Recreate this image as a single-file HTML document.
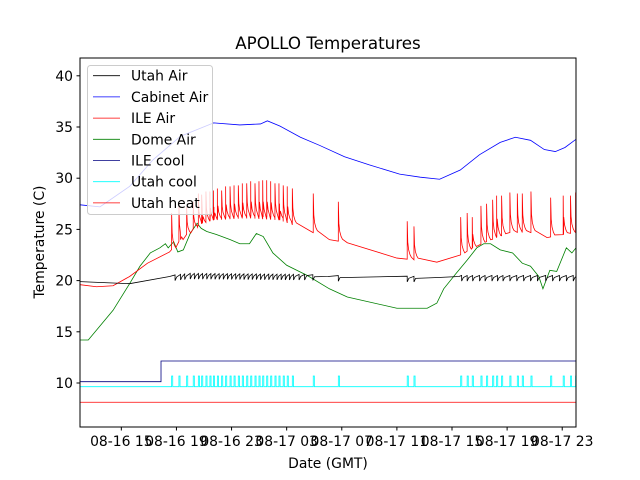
<!DOCTYPE html>
<html><head><meta charset="utf-8"><style>
body{margin:0;background:#fff}
svg{display:block;font-family:"DejaVu Sans","Liberation Sans",sans-serif}
</style></head><body>
<svg id="c" width="640" height="480" viewBox="0 0 640 480"></svg>
<script>
// time in hours from 08-16 12:00
const xTickLabels=["08-16 15","08-16 19","08-16 23","08-17 03","08-17 07","08-17 11","08-17 15","08-17 19","08-17 23"];
const xTickHours=[3,7,11,15,19,23,27,31,35];
const yTicks=[15,20,25,30,35,40,10];
const cabinetT=[0,1.45,3.6,5.3,7.3,9.7,11.6,13.1,13.6,14.5,16.0,17.4,19.2,21.0,23.2,24.7,26.1,27.6,29.0,30.5,31.6,32.7,33.7,34.5,35.2,36];
const cabinetV=[27.4,27.2,29.2,31.8,34.1,35.4,35.2,35.3,35.6,35.1,34.0,33.2,32.1,31.3,30.4,30.1,29.9,30.8,32.3,33.5,34.0,33.7,32.8,32.6,33.0,33.8];
const ileT=[0,1.2,2.4,3.6,4.9,6.5,7.3,8.5,9.7,12.1,14.5,16.9,18.1,19.4,23,25.9,27.6,28.5,29.5,31.2,32.7,33.9,35.1,36];
const ileV=[19.6,19.4,19.5,20.4,21.7,22.8,24.0,25.4,25.9,26.1,25.9,24.7,24.0,23.7,22.2,21.8,22.5,23.2,23.8,24.7,24.7,24.2,24.5,24.7];
const ileSpikeT=[6.65,7.18,7.74,8.22,8.59,8.83,9.14,9.43,9.68,9.97,10.28,10.57,10.89,11.18,11.49,11.78,12.1,12.39,12.7,12.99,13.26,13.55,13.84,14.15,14.44,14.75,15.04,15.41,16.93,18.75,23.75,24.24,27.63,28.1,28.47,29.1,29.51,29.95,30.24,30.6,31.2,31.74,32.1,32.73,34.16,35.07,35.6,35.97];
const ileSpikeV=[26.6,27.5,27.2,27.7,28.5,28.4,28.7,28.7,28.8,29.0,28.8,29.2,29.2,29.3,29.3,29.5,29.5,29.7,29.5,29.7,29.8,29.8,29.7,29.5,29.5,29.3,29.2,29.0,28.5,27.7,25.8,25.3,26.2,26.6,26.2,27.3,27.5,27.9,28.3,28.3,28.6,28.5,28.5,28.7,28.1,28.3,28.3,28.6];
const domeT=[0,0.6,2.4,3.6,4.35,5.1,5.8,6.2,6.4,6.8,7.1,7.5,8.0,8.5,8.8,9.2,9.9,10.9,11.6,12.3,12.8,13.3,14.0,15.0,16.5,18.1,19.4,23,25.2,25.9,26.4,27.3,28.1,28.8,29.3,29.8,30.5,31.4,32.1,32.7,33.3,33.6,34.1,34.6,35.3,35.7,36];
const domeV=[14.2,14.2,17.1,19.7,21.4,22.7,23.2,23.6,23.2,23.8,22.8,23.0,24.6,25.6,25.1,24.8,24.5,24.0,23.6,23.6,24.6,24.3,22.7,21.5,20.5,19.2,18.4,17.3,17.3,17.8,19.2,20.7,22.0,23.2,23.6,23.6,23.0,22.7,21.7,21.4,20.4,19.2,21.0,20.9,23.2,22.7,23.2];
const utahT=[0,3.6,6.5,8,16.5,18,26,27.5,36];
const utahV=[19.9,19.7,20.4,20.6,20.5,20.4,20.3,20.4,20.4];
const utahDipT=[6.9,7.3,7.6,8.0,8.3,8.6,8.9,9.2,9.5,9.8,10.1,10.4,10.7,11.0,11.3,11.6,11.9,12.2,12.5,12.8,13.1,13.4,13.7,14.0,14.3,14.6,14.9,15.2,15.5,15.9,16.3,16.9,18.75,23.75,24.24,27.7,28.1,28.5,29.0,29.4,29.9,30.3,30.7,31.2,31.7,32.2,32.7,33.2,33.8,34.3,34.8,35.3,35.8];
const ileCoolT=[0,5.88,36];
const ileCoolV=[10.13,12.15,12.15];
const utahCoolBase=9.64, utahCoolOnV=10.68;
const utahCoolOnT=ileSpikeT;
const utahHeatV=8.12;
const legendNames=["Utah Air","Cabinet Air","ILE Air","Dome Air","ILE cool","Utah cool","Utah heat"];
const legendColors=["#000","#00f","#f00","#008000","#000080","#0ff","#f00"];

const L=80,R=576,T=58,B=427;
const X=t=>L+t*(R-L)/36;
const Y=v=>383-(v-10)*10.24;
const NS="http://www.w3.org/2000/svg";
const svg=document.getElementById('c');
function mk(tag,attrs,parent){const e=document.createElementNS(NS,tag);for(const k in attrs)e.setAttribute(k,attrs[k]);(parent||svg).appendChild(e);return e;}
function interp(ts,vs,t){if(t<=ts[0])return vs[0];for(let i=1;i<ts.length;i++){if(t<=ts[i]){const f=(t-ts[i-1])/(ts[i]-ts[i-1]);return vs[i-1]+f*(vs[i]-vs[i-1]);}}return vs[vs.length-1];}
function pathFrom(pts){return pts.map((p,i)=>(i?'L':'M')+X(p[0]).toFixed(2)+','+Y(p[1]).toFixed(2)).join('');}

const clip=mk('clipPath',{id:'pc'});mk('rect',{x:L,y:T,width:R-L,height:B-T},clip);
const g=mk('g',{'clip-path':'url(#pc)'});

let e=mk('path',{d:pathFrom([[0,utahHeatV],[36,utahHeatV]]),stroke:'#f00','stroke-width':0.8,fill:'none'},g);


let cp=[[0,utahCoolBase]];
utahCoolOnT.forEach(t=>{cp.push([t,utahCoolBase],[t,utahCoolOnV],[t+0.08,utahCoolOnV],[t+0.08,utahCoolBase]);});
cp.push([36,utahCoolBase]);
e=mk('path',{d:pathFrom(cp),stroke:'#0ff','stroke-width':0.8,fill:'none'},g);


let sp=[];ileCoolT.forEach((t,i)=>{if(i)sp.push([t,ileCoolV[i-1]]);sp.push([t,ileCoolV[i]]);});
e=mk('path',{d:pathFrom(sp),stroke:'#000080','stroke-width':0.8,fill:'none'},g);


e=mk('path',{d:pathFrom(domeT.map((t,i)=>[t,domeV[i]])),stroke:'#008000','stroke-width':0.8,fill:'none'},g);


let ip=ileT.map((t,i)=>[t,ileV[i]]);
ileSpikeT.forEach((t,i)=>{const b=interp(ileT,ileV,t),p=ileSpikeV[i];
 ip.push([t-0.001,b],[t,p],[t+0.04,b+(p-b)*0.45],[t+0.1,b+(p-b)*0.25],[t+0.2,b+(p-b)*0.12],[t+0.3,b+(p-b)*0.05]);});
ip.sort((a,b)=>a[0]-b[0]);
e=mk('path',{d:pathFrom(ip),stroke:'#f00','stroke-width':0.8,fill:'none'},g);


let up=utahT.map((t,i)=>[t,utahV[i]]);
utahDipT.forEach(t=>{const b=interp(utahT,utahV,t);up.push([t-0.001,b+0.1],[t,b-0.45],[t+0.12,b-0.1]);});
up.sort((a,b)=>a[0]-b[0]);
e=mk('path',{d:pathFrom(up),stroke:'#000','stroke-width':0.8,fill:'none'},g);


e=mk('path',{d:pathFrom(cabinetT.map((t,i)=>[t,cabinetV[i]])),stroke:'#00f','stroke-width':0.8,fill:'none'},g);



e=mk('rect',{x:L,y:T,width:R-L,height:B-T,fill:'none',stroke:'#000','stroke-width':1});


yTicks.forEach(v=>{const y=Y(v);mk('line',{x1:L-3.5,x2:L,y1:y,y2:y,stroke:'#000'});
 const t=mk('text',{x:L-7,y:y+5,'text-anchor':'end','font-size':13.9});t.textContent=v;
 
 });
xTickHours.forEach((h,i)=>{const x=X(h);mk('line',{x1:x,x2:x,y1:B,y2:B+3.5,stroke:'#000'});
 const t=mk('text',{x:x,y:B+19,'text-anchor':'middle','font-size':13.9});t.textContent=xTickLabels[i];
 
 });
e=mk('text',{x:328,y:468,'text-anchor':'middle','font-size':13.9});e.textContent='Date (GMT)';


e=mk('text',{x:0,y:0,'text-anchor':'middle','font-size':13.9,transform:'translate(44,242) rotate(-90)'});e.textContent='Temperature (C)';


e=mk('text',{x:328,y:49,'text-anchor':'middle','font-size':16.7});e.textContent='APOLLO Temperatures';


const lg=mk('g',{});


mk('rect',{x:87.5,y:65.5,width:125,height:149,rx:3,fill:'#fff','fill-opacity':0.8,stroke:'#ccc'},lg);
legendNames.forEach((n,i)=>{const y=75.7+i*21.2;
 const row=mk('g',{},lg);
 
 
 mk('line',{x1:93,x2:120,y1:y,y2:y,stroke:legendColors[i],'stroke-width':0.8},row);
 const t=mk('text',{x:131,y:y+5,'font-size':13.9},row);t.textContent=n;});
</script>
</body></html>
